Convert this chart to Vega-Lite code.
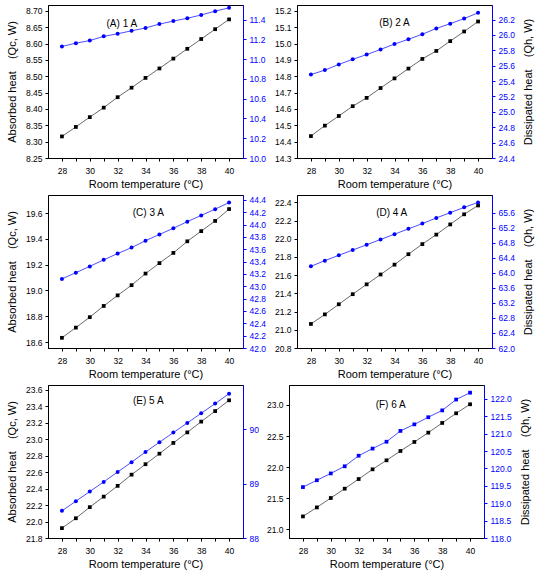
{
  "$schema": "https://vega.github.io/schema/vega-lite/v6.json",
  "padding": {"left": 5, "top": 4, "right": 2, "bottom": 2},
  "background": "white",
  "datasets": {
    "pts": [
      {"p": "A", "t": 28, "qc": 8.316, "qh": 11.128},
      {"p": "A", "t": 29, "qc": 8.345, "qh": 11.161},
      {"p": "A", "t": 30, "qc": 8.375, "qh": 11.187},
      {"p": "A", "t": 31, "qc": 8.404, "qh": 11.230},
      {"p": "A", "t": 32, "qc": 8.436, "qh": 11.256},
      {"p": "A", "t": 33, "qc": 8.465, "qh": 11.286},
      {"p": "A", "t": 34, "qc": 8.495, "qh": 11.315},
      {"p": "A", "t": 35, "qc": 8.524, "qh": 11.354},
      {"p": "A", "t": 36, "qc": 8.554, "qh": 11.384},
      {"p": "A", "t": 37, "qc": 8.584, "qh": 11.413},
      {"p": "A", "t": 38, "qc": 8.614, "qh": 11.446},
      {"p": "A", "t": 39, "qc": 8.644, "qh": 11.485},
      {"p": "A", "t": 40, "qc": 8.674, "qh": 11.518},
      {"p": "B", "t": 28, "qc": 14.434, "qh": 25.485},
      {"p": "B", "t": 29, "qc": 14.498, "qh": 25.543},
      {"p": "B", "t": 30, "qc": 14.557, "qh": 25.617},
      {"p": "B", "t": 31, "qc": 14.617, "qh": 25.684},
      {"p": "B", "t": 32, "qc": 14.668, "qh": 25.745},
      {"p": "B", "t": 33, "qc": 14.728, "qh": 25.812},
      {"p": "B", "t": 34, "qc": 14.787, "qh": 25.882},
      {"p": "B", "t": 35, "qc": 14.847, "qh": 25.944},
      {"p": "B", "t": 36, "qc": 14.906, "qh": 26.010},
      {"p": "B", "t": 37, "qc": 14.955, "qh": 26.085},
      {"p": "B", "t": 38, "qc": 15.015, "qh": 26.147},
      {"p": "B", "t": 39, "qc": 15.074, "qh": 26.213},
      {"p": "B", "t": 40, "qc": 15.135, "qh": 26.288},
      {"p": "C", "t": 28, "qc": 18.633, "qh": 43.120},
      {"p": "C", "t": 29, "qc": 18.712, "qh": 43.221},
      {"p": "C", "t": 30, "qc": 18.793, "qh": 43.323},
      {"p": "C", "t": 31, "qc": 18.880, "qh": 43.429},
      {"p": "C", "t": 32, "qc": 18.962, "qh": 43.531},
      {"p": "C", "t": 33, "qc": 19.041, "qh": 43.627},
      {"p": "C", "t": 34, "qc": 19.131, "qh": 43.739},
      {"p": "C", "t": 35, "qc": 19.212, "qh": 43.840},
      {"p": "C", "t": 36, "qc": 19.291, "qh": 43.941},
      {"p": "C", "t": 37, "qc": 19.381, "qh": 44.048},
      {"p": "C", "t": 38, "qc": 19.460, "qh": 44.149},
      {"p": "C", "t": 39, "qc": 19.539, "qh": 44.251},
      {"p": "C", "t": 40, "qc": 19.631, "qh": 44.357},
      {"p": "D", "t": 28, "qc": 21.064, "qh": 64.174},
      {"p": "D", "t": 29, "qc": 21.169, "qh": 64.324},
      {"p": "D", "t": 30, "qc": 21.280, "qh": 64.465},
      {"p": "D", "t": 31, "qc": 21.391, "qh": 64.606},
      {"p": "D", "t": 32, "qc": 21.499, "qh": 64.746},
      {"p": "D", "t": 33, "qc": 21.607, "qh": 64.887},
      {"p": "D", "t": 34, "qc": 21.715, "qh": 65.028},
      {"p": "D", "t": 35, "qc": 21.830, "qh": 65.169},
      {"p": "D", "t": 36, "qc": 21.941, "qh": 65.310},
      {"p": "D", "t": 37, "qc": 22.045, "qh": 65.459},
      {"p": "D", "t": 38, "qc": 22.157, "qh": 65.600},
      {"p": "D", "t": 39, "qc": 22.268, "qh": 65.741},
      {"p": "D", "t": 40, "qc": 22.365, "qh": 65.873},
      {"p": "E", "t": 28, "qc": 21.920, "qh": 88.500},
      {"p": "E", "t": 29, "qc": 22.040, "qh": 88.678},
      {"p": "E", "t": 30, "qc": 22.175, "qh": 88.856},
      {"p": "E", "t": 31, "qc": 22.303, "qh": 89.034},
      {"p": "E", "t": 32, "qc": 22.434, "qh": 89.218},
      {"p": "E", "t": 33, "qc": 22.570, "qh": 89.397},
      {"p": "E", "t": 34, "qc": 22.697, "qh": 89.586},
      {"p": "E", "t": 35, "qc": 22.825, "qh": 89.764},
      {"p": "E", "t": 36, "qc": 22.956, "qh": 89.943},
      {"p": "E", "t": 37, "qc": 23.084, "qh": 90.121},
      {"p": "E", "t": 38, "qc": 23.215, "qh": 90.299},
      {"p": "E", "t": 39, "qc": 23.343, "qh": 90.477},
      {"p": "E", "t": 40, "qc": 23.474, "qh": 90.661},
      {"p": "F", "t": 28, "qc": 21.207, "qh": 119.464},
      {"p": "F", "t": 29, "qc": 21.352, "qh": 119.661},
      {"p": "F", "t": 30, "qc": 21.503, "qh": 119.857},
      {"p": "F", "t": 31, "qc": 21.653, "qh": 120.063},
      {"p": "F", "t": 32, "qc": 21.808, "qh": 120.366},
      {"p": "F", "t": 33, "qc": 21.964, "qh": 120.571},
      {"p": "F", "t": 34, "qc": 22.109, "qh": 120.768},
      {"p": "F", "t": 35, "qc": 22.259, "qh": 121.080},
      {"p": "F", "t": 36, "qc": 22.404, "qh": 121.268},
      {"p": "F", "t": 37, "qc": 22.554, "qh": 121.473},
      {"p": "F", "t": 38, "qc": 22.710, "qh": 121.670},
      {"p": "F", "t": 39, "qc": 22.865, "qh": 121.982},
      {"p": "F", "t": 40, "qc": 23.010, "qh": 122.179}
    ],
    "labs": [
      {"p": "A", "lab": "(A) 1 A", "t": 32.3, "qc": 8.659},
      {"p": "B", "lab": "(B) 2 A", "t": 34.0, "qc": 15.127},
      {"p": "C", "lab": "(C) 3 A", "t": 34.2, "qc": 19.6},
      {"p": "D", "lab": "(D) 4 A", "t": 33.8, "qc": 22.28},
      {"p": "E", "lab": "(E) 5 A", "t": 34.2, "qc": 23.46},
      {"p": "F", "lab": "(F) 6 A", "t": 34.3, "qc": 23.0}
    ]
  },
  "data": {"name": "pts"},
  "vconcat": [
    {
      "hconcat": [
        {
          "width": 195, "height": 153,
          "transform": [{"filter": "datum.p == 'A'"}],
          "encoding": {"x": {"field": "t", "type": "quantitative", "scale": {"domain": [27, 41], "nice": false}, "axis": {"values": [28,29,30,31,32,33,34,35,36,37,38,39,40], "labelExpr": "datum.value % 2 == 0 ? datum.label : ''", "title": "Room temperature (°C)"}}},
          "layer": [
            {
              "encoding": {"y": {"field": "qc", "type": "quantitative", "scale": {"domain": [8.25, 8.718], "zero": false, "nice": false}, "axis": {"orient": "left", "values": [8.25,8.3,8.35,8.4,8.45,8.5,8.55,8.6,8.65,8.7], "format": ".2f", "title": "Absorbed heat\u00a0\u00a0\u00a0\u00a0(Qc, W)"}}},
              "layer": [
                {"mark": {"type": "line", "color": "#444444", "strokeWidth": 0.8}},
                {"mark": {"type": "square", "color": "black", "size": 14, "opacity": 1}},
                {"data": {"name": "labs"}, "transform": [{"filter": "datum.p == 'A'"}], "mark": {"type": "text", "fontSize": 10, "font": "Liberation Sans"}, "encoding": {"text": {"field": "lab"}}}
              ]
            },
            {
              "encoding": {"y": {"field": "qh", "type": "quantitative", "scale": {"domain": [10.0, 11.547], "zero": false, "nice": false}, "axis": {"orient": "right", "values": [10,10.2,10.4,10.6,10.8,11,11.2,11.4], "format": ".1f", "title": null, "domainColor": "#0000FF", "tickColor": "#0000FF", "labelColor": "#0000FF"}}},
              "layer": [
                {"mark": {"type": "line", "color": "#3a3aff", "strokeWidth": 0.9}},
                {"mark": {"type": "circle", "color": "#0000FF", "size": 16, "opacity": 1}}
              ]
            }
          ],
          "resolve": {"scale": {"y": "independent"}}
        },
        {
          "width": 195, "height": 153,
          "transform": [{"filter": "datum.p == 'B'"}],
          "encoding": {"x": {"field": "t", "type": "quantitative", "scale": {"domain": [27, 41], "nice": false}, "axis": {"values": [28,29,30,31,32,33,34,35,36,37,38,39,40], "labelExpr": "datum.value % 2 == 0 ? datum.label : ''", "title": "Room temperature (°C)"}}},
          "layer": [
            {
              "encoding": {"y": {"field": "qc", "type": "quantitative", "scale": {"domain": [14.3, 15.236], "zero": false, "nice": false}, "axis": {"orient": "left", "values": [14.3,14.4,14.5,14.6,14.7,14.8,14.9,15,15.1,15.2], "format": ".1f", "title": null}}},
              "layer": [
                {"mark": {"type": "line", "color": "#444444", "strokeWidth": 0.8}},
                {"mark": {"type": "square", "color": "black", "size": 14, "opacity": 1}},
                {"data": {"name": "labs"}, "transform": [{"filter": "datum.p == 'B'"}], "mark": {"type": "text", "fontSize": 10, "font": "Liberation Sans"}, "encoding": {"text": {"field": "lab"}}}
              ]
            },
            {
              "encoding": {"y": {"field": "qh", "type": "quantitative", "scale": {"domain": [24.4, 26.39], "zero": false, "nice": false}, "axis": {"orient": "right", "values": [24.4,24.6,24.8,25,25.2,25.4,25.6,25.8,26,26.2], "format": ".1f", "title": "Dissipated heat\u00a0\u00a0\u00a0\u00a0(Qh, W)", "titleAngle": 270, "titleBaseline": "top", "domainColor": "#0000FF", "tickColor": "#0000FF", "labelColor": "#0000FF"}}},
              "layer": [
                {"mark": {"type": "line", "color": "#3a3aff", "strokeWidth": 0.9}},
                {"mark": {"type": "circle", "color": "#0000FF", "size": 16, "opacity": 1}}
              ]
            }
          ],
          "resolve": {"scale": {"y": "independent"}}
        }
      ]
    },
    {
      "hconcat": [
        {
          "width": 195, "height": 153,
          "transform": [{"filter": "datum.p == 'C'"}],
          "encoding": {"x": {"field": "t", "type": "quantitative", "scale": {"domain": [27, 41], "nice": false}, "axis": {"values": [28,29,30,31,32,33,34,35,36,37,38,39,40], "labelExpr": "datum.value % 2 == 0 ? datum.label : ''", "title": "Room temperature (°C)"}}},
          "layer": [
            {
              "encoding": {"y": {"field": "qc", "type": "quantitative", "scale": {"domain": [18.554, 19.74], "zero": false, "nice": false}, "axis": {"orient": "left", "values": [18.6,18.8,19,19.2,19.4,19.6], "format": ".1f", "title": "Absorbed heat\u00a0\u00a0\u00a0\u00a0(Qc, W)"}}},
              "layer": [
                {"mark": {"type": "line", "color": "#444444", "strokeWidth": 0.8}},
                {"mark": {"type": "square", "color": "black", "size": 14, "opacity": 1}},
                {"data": {"name": "labs"}, "transform": [{"filter": "datum.p == 'C'"}], "mark": {"type": "text", "fontSize": 10, "font": "Liberation Sans"}, "encoding": {"text": {"field": "lab"}}}
              ]
            },
            {
              "encoding": {"y": {"field": "qh", "type": "quantitative", "scale": {"domain": [42.0, 44.48], "zero": false, "nice": false}, "axis": {"orient": "right", "values": [42,42.2,42.4,42.6,42.8,43,43.2,43.4,43.6,43.8,44,44.2,44.4], "format": ".1f", "title": null, "domainColor": "#0000FF", "tickColor": "#0000FF", "labelColor": "#0000FF"}}},
              "layer": [
                {"mark": {"type": "line", "color": "#3a3aff", "strokeWidth": 0.9}},
                {"mark": {"type": "circle", "color": "#0000FF", "size": 16, "opacity": 1}}
              ]
            }
          ],
          "resolve": {"scale": {"y": "independent"}}
        },
        {
          "width": 195, "height": 153,
          "transform": [{"filter": "datum.p == 'D'"}],
          "encoding": {"x": {"field": "t", "type": "quantitative", "scale": {"domain": [27, 41], "nice": false}, "axis": {"values": [28,29,30,31,32,33,34,35,36,37,38,39,40], "labelExpr": "datum.value % 2 == 0 ? datum.label : ''", "title": "Room temperature (°C)"}}},
          "layer": [
            {
              "encoding": {"y": {"field": "qc", "type": "quantitative", "scale": {"domain": [20.8, 22.48], "zero": false, "nice": false}, "axis": {"orient": "left", "values": [20.8,21,21.2,21.4,21.6,21.8,22,22.2,22.4], "format": ".1f", "title": null}}},
              "layer": [
                {"mark": {"type": "line", "color": "#444444", "strokeWidth": 0.8}},
                {"mark": {"type": "square", "color": "black", "size": 14, "opacity": 1}},
                {"data": {"name": "labs"}, "transform": [{"filter": "datum.p == 'D'"}], "mark": {"type": "text", "fontSize": 10, "font": "Liberation Sans"}, "encoding": {"text": {"field": "lab"}}}
              ]
            },
            {
              "encoding": {"y": {"field": "qh", "type": "quantitative", "scale": {"domain": [62.0, 66.07], "zero": false, "nice": false}, "axis": {"orient": "right", "values": [62,62.4,62.8,63.2,63.6,64,64.4,64.8,65.2,65.6], "format": ".1f", "title": "Dissipated heat\u00a0\u00a0\u00a0\u00a0(Qh, W)", "titleAngle": 270, "titleBaseline": "top", "domainColor": "#0000FF", "tickColor": "#0000FF", "labelColor": "#0000FF"}}},
              "layer": [
                {"mark": {"type": "line", "color": "#3a3aff", "strokeWidth": 0.9}},
                {"mark": {"type": "circle", "color": "#0000FF", "size": 16, "opacity": 1}}
              ]
            }
          ],
          "resolve": {"scale": {"y": "independent"}}
        }
      ]
    },
    {
      "hconcat": [
        {
          "width": 195, "height": 153,
          "transform": [{"filter": "datum.p == 'E'"}],
          "encoding": {"x": {"field": "t", "type": "quantitative", "scale": {"domain": [27, 41], "nice": false}, "axis": {"values": [28,29,30,31,32,33,34,35,36,37,38,39,40], "labelExpr": "datum.value % 2 == 0 ? datum.label : ''", "title": "Room temperature (°C)"}}},
          "layer": [
            {
              "encoding": {"y": {"field": "qc", "type": "quantitative", "scale": {"domain": [21.8, 23.66], "zero": false, "nice": false}, "axis": {"orient": "left", "values": [21.8,22,22.2,22.4,22.6,22.8,23,23.2,23.4,23.6], "format": ".1f", "title": "Absorbed heat\u00a0\u00a0\u00a0\u00a0(Qc, W)"}}},
              "layer": [
                {"mark": {"type": "line", "color": "#444444", "strokeWidth": 0.8}},
                {"mark": {"type": "square", "color": "black", "size": 14, "opacity": 1}},
                {"data": {"name": "labs"}, "transform": [{"filter": "datum.p == 'E'"}], "mark": {"type": "text", "fontSize": 10, "font": "Liberation Sans"}, "encoding": {"text": {"field": "lab"}}}
              ]
            },
            {
              "encoding": {"y": {"field": "qh", "type": "quantitative", "scale": {"domain": [88.0, 90.82], "zero": false, "nice": false}, "axis": {"orient": "right", "values": [88,89,90], "format": "d", "title": null, "domainColor": "#0000FF", "tickColor": "#0000FF", "labelColor": "#0000FF"}}},
              "layer": [
                {"mark": {"type": "line", "color": "#3a3aff", "strokeWidth": 0.9}},
                {"mark": {"type": "circle", "color": "#0000FF", "size": 16, "opacity": 1}}
              ]
            }
          ],
          "resolve": {"scale": {"y": "independent"}}
        },
        {
          "width": 195, "height": 153,
          "transform": [{"filter": "datum.p == 'F'"}],
          "encoding": {"x": {"field": "t", "type": "quantitative", "scale": {"domain": [27, 41], "nice": false}, "axis": {"values": [28,29,30,31,32,33,34,35,36,37,38,39,40], "labelExpr": "datum.value % 2 == 0 ? datum.label : ''", "title": "Room temperature (°C)"}}},
          "layer": [
            {
              "encoding": {"y": {"field": "qc", "type": "quantitative", "scale": {"domain": [20.86, 23.32], "zero": false, "nice": false}, "axis": {"orient": "left", "values": [21,21.5,22,22.5,23], "format": ".1f", "title": null}}},
              "layer": [
                {"mark": {"type": "line", "color": "#444444", "strokeWidth": 0.8}},
                {"mark": {"type": "square", "color": "black", "size": 14, "opacity": 1}},
                {"data": {"name": "labs"}, "transform": [{"filter": "datum.p == 'F'"}], "mark": {"type": "text", "fontSize": 10, "font": "Liberation Sans"}, "encoding": {"text": {"field": "lab"}}}
              ]
            },
            {
              "encoding": {"y": {"field": "qh", "type": "quantitative", "scale": {"domain": [118.0, 122.4], "zero": false, "nice": false}, "axis": {"orient": "right", "values": [118,118.5,119,119.5,120,120.5,121,121.5,122], "format": ".1f", "title": "Dissipated heat\u00a0\u00a0\u00a0\u00a0(Qh, W)", "titleAngle": 270, "titleBaseline": "top", "domainColor": "#0000FF", "tickColor": "#0000FF", "labelColor": "#0000FF"}}},
              "layer": [
                {"mark": {"type": "line", "color": "#3a3aff", "strokeWidth": 0.9}},
                {"mark": {"type": "square", "color": "#0000FF", "size": 14, "opacity": 1}}
              ]
            }
          ],
          "resolve": {"scale": {"y": "independent"}}
        }
      ]
    }
  ],
  "spacing": 4,
  "config": {
    "concat": {"spacing": 6},
    "view": {"stroke": "black", "strokeWidth": 1},
    "axis": {
      "grid": false,
      "labelFont": "Liberation Sans",
      "titleFont": "Liberation Sans",
      "labelFontSize": 8.5,
      "titleFontSize": 11,
      "titleFontWeight": "normal",
      "labelColor": "black",
      "titleColor": "black",
      "domainColor": "black",
      "tickColor": "black",
      "tickSize": 3,
      "labelPadding": 3
    },
    "axisY": {"titlePadding": 8},
    "axisX": {"titlePadding": 4, "labelPadding": 5}
  }
}
